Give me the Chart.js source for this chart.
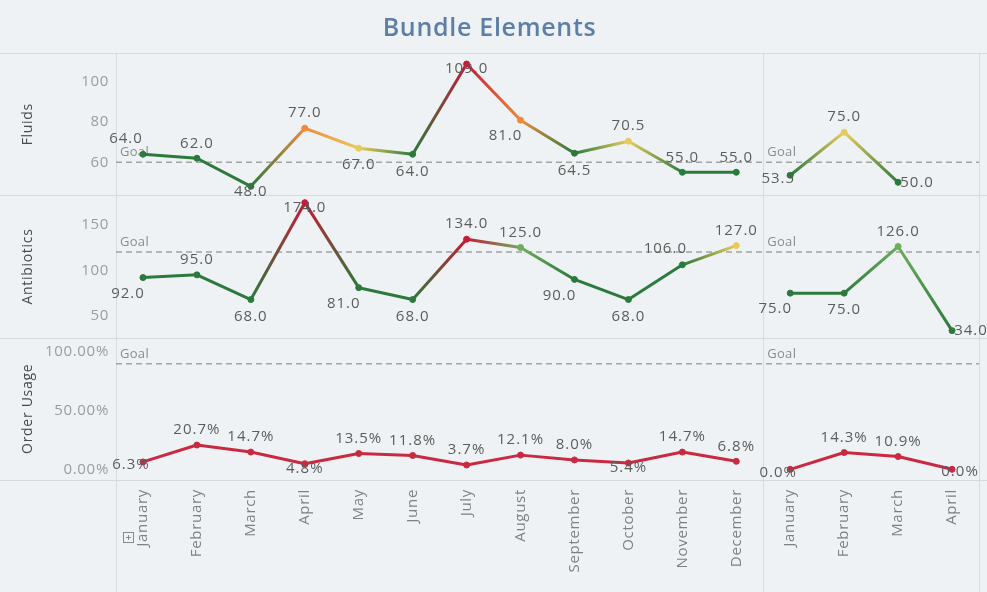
<!DOCTYPE html>
<html>
<head>
<meta charset="utf-8">
<script src="https://cdn.jsdelivr.net/npm/chart.js@4.4.1/dist/chart.umd.min.js"></script>
<style>
  html, body { margin: 0; padding: 0; background: #eff2f4; }
  #wrap { width: 987px; height: 592px; }
</style>
</head>
<body>
<div id="wrap"><canvas id="bundle" width="987" height="592"></canvas></div>
<script>
// ---- data ----
var monthLabels = ['January', 'February', 'March', 'April', 'May', 'June', 'July', 'August',
  'September', 'October', 'November', 'December', 'January', 'February', 'March', 'April'];

var fluidsYear1 = [64.0, 62.0, 48.0, 77.0, 67.0, 64.0, 109.0, 81.0, 64.5, 70.5, 55.0, 55.0];
var fluidsYear2 = [53.5, 75.0, 50.0];
var antibioticsYear1 = [92.0, 95.0, 68.0, 174.0, 81.0, 68.0, 134.0, 125.0, 90.0, 68.0, 106.0, 127.0];
var antibioticsYear2 = [75.0, 75.0, 126.0, 34.0];
var orderUsageYear1 = [6.3, 20.7, 14.7, 4.8, 13.5, 11.8, 3.7, 12.1, 8.0, 5.4, 14.7, 6.8];
var orderUsageYear2 = [0.0, 14.3, 10.9, 0.0];

var fluidsGoal = 60;
var antibioticsGoal = 120;
var orderUsageGoal = 90;

var fluidsTicks = [60, 80, 100];
var antibioticsTicks = [50, 100, 150];
var orderUsageTicks = [0, 50, 100];

// ---- styling ----
var FONT = "'Open Sans', 'DejaVu Sans', sans-serif";
var GREEN = '#2b7a3c', LIGHTGREEN = '#6cae5a', YELLOW = '#e8cc5a', ORANGE = '#ef8a3c', RED = '#c41b37', ORDERRED = '#c92a41';

function fluidsColor(v) {
  if (v <= 65) return GREEN;
  if (v <= 75) return YELLOW;
  if (v <= 85) return ORANGE;
  return RED;
}
function antibioticsColor(v) {
  if (v <= 110) return GREEN;
  if (v <= 126) return LIGHTGREEN;
  if (v <= 130) return YELLOW;
  return RED;
}
function orderColor(v) { return ORDERRED; }

// label placement codes: a above, b below, c on, L above-left, l below-left, r right, w left-on, e right-on
var placeOffsets = { a: [0, -15], b: [0, 17], c: [0, 5], L: [-17, -16], l: [-15, 16], r: [19, 0], w: [-12, 3], e: [8, 2] };

function firstYear(vals) { return vals.concat([null, null, null, null]); }
function secondYear(vals) {
  var out = [];
  for (var i = 0; i < 12; i++) out.push(null);
  for (var j = 0; j < 4; j++) out.push(j < vals.length ? vals[j] : null);
  return out;
}

function gradientSegment(colorFn) {
  return {
    borderColor: function (c) {
      var ds = c.chart.data.datasets[c.datasetIndex];
      var g = c.chart.ctx.createLinearGradient(c.p0.x, c.p0.y, c.p1.x, c.p1.y);
      g.addColorStop(0, colorFn(ds.data[c.p0DataIndex]));
      g.addColorStop(1, colorFn(ds.data[c.p1DataIndex]));
      return g;
    },
    // keeps each segment distinct so every one gets its own gradient
    borderDashOffset: function (c) { return c.p0DataIndex; }
  };
}

function lineSet(data, axis, colorFn, places, fmt) {
  var pc = data.map(function (v) { return v === null ? 'rgba(0,0,0,0)' : colorFn(v); });
  return {
    data: data,
    yAxisID: axis,
    borderWidth: 3,
    pointRadius: 3,
    pointBorderWidth: 1,
    pointBackgroundColor: pc,
    pointBorderColor: pc,
    spanGaps: false,
    segment: gradientSegment(colorFn),
    places: places,
    fmt: fmt
  };
}

function one(v) { return v.toFixed(1); }
function pct(v) { return v.toFixed(1) + '%'; }

var datasets = [
  lineSet(firstYear(fluidsYear1), 'yF', fluidsColor, 'Lacabbclbaaa', one),
  lineSet(secondYear(fluidsYear2), 'yF', fluidsColor, 'war', one),
  lineSet(firstYear(antibioticsYear1), 'yA', antibioticsColor, 'labclbaalbLa', one),
  lineSet(secondYear(antibioticsYear2), 'yA', antibioticsColor, 'lbar', one),
  lineSet(firstYear(orderUsageYear1), 'yO', orderColor, 'waacaaaaacaa', pct),
  lineSet(secondYear(orderUsageYear2), 'yO', orderColor, 'waae', pct)
];

function rowAxis(title, min, max, ticks, fmt) {
  return {
    type: 'linear',
    position: 'left',
    stack: 'rows',
    stackWeight: 1,
    min: min,
    max: max,
    grid: { display: false, drawTicks: false },
    border: { display: false },
    afterBuildTicks: function (s) { s.ticks = ticks.map(function (v) { return { value: v }; }); },
    afterFit: function (s) { s.width = 116; },
    ticks: {
      padding: 7,
      color: '#9c9c9c',
      font: { family: FONT, size: 15 },
      callback: fmt
    },
    title: {
      display: true,
      text: title,
      color: '#4a4a4a',
      font: { family: FONT, size: 14 },
      padding: { top: 20, bottom: 0 }
    }
  };
}

var goalByAxis = { yF: fluidsGoal, yA: antibioticsGoal, yO: orderUsageGoal };

var decor = {
  id: 'decor',
  beforeDraw: function (chart) {
    var ctx = chart.ctx;
    ctx.save();
    ctx.fillStyle = '#eff2f4';
    ctx.fillRect(0, 0, chart.width, chart.height);
    ctx.restore();
    ctx.letterSpacing = '0.7px';
  },
  beforeDatasetsDraw: function (chart) {
    var ctx = chart.ctx, a = chart.chartArea, xs = chart.scales.x;
    var split = (xs.getPixelForValue(11) + xs.getPixelForValue(12)) / 2;
    ctx.save();
    ctx.strokeStyle = '#d5dadd';
    ctx.lineWidth = 1;
    ['yF', 'yA', 'yO'].forEach(function (id) {
      var s = chart.scales[id];
      [s.top, s.bottom].forEach(function (y) {
        ctx.beginPath(); ctx.moveTo(0, Math.round(y) + 0.5); ctx.lineTo(chart.width, Math.round(y) + 0.5); ctx.stroke();
      });
    });
    [a.left, split, a.right].forEach(function (x) {
      ctx.beginPath(); ctx.moveTo(Math.round(x) + 0.5, a.top); ctx.lineTo(Math.round(x) + 0.5, chart.height); ctx.stroke();
    });
    // goal reference lines
    Object.keys(goalByAxis).forEach(function (id) {
      var y = chart.scales[id].getPixelForValue(goalByAxis[id]);
      ctx.strokeStyle = '#a3a3a3';
      ctx.lineWidth = 1.5;
      ctx.setLineDash([6, 4]);
      ctx.beginPath(); ctx.moveTo(a.left, y); ctx.lineTo(a.right, y); ctx.stroke();
      ctx.setLineDash([]);
      ctx.fillStyle = '#8c8c8c';
      ctx.font = '13px ' + FONT;
      ctx.letterSpacing = '0.3px';
      ctx.textAlign = 'left';
      ctx.textBaseline = 'bottom';
      ctx.fillText('Goal', a.left + 4, y - 3);
      ctx.fillText('Goal', split + 4, y - 3);
    });
    // small expand box under the axis titles
    ctx.strokeStyle = '#8a8a8a';
    ctx.lineWidth = 1;
    ctx.strokeRect(123.5, 532.5, 10, 10);
    ctx.beginPath();
    ctx.moveTo(126, 537.5); ctx.lineTo(131, 537.5);
    ctx.moveTo(128.5, 535); ctx.lineTo(128.5, 540);
    ctx.stroke();
    ctx.restore();
  },
  afterDatasetsDraw: function (chart) {
    var ctx = chart.ctx;
    ctx.save();
    ctx.font = '15px ' + FONT;
    ctx.letterSpacing = '1px';
    ctx.fillStyle = '#5c5c5c';
    ctx.textAlign = 'center';
    ctx.textBaseline = 'middle';
    chart.data.datasets.forEach(function (ds, di) {
      var meta = chart.getDatasetMeta(di);
      var k = 0;
      ds.data.forEach(function (v, i) {
        if (v === null) return;
        var pt = meta.data[i];
        var off = placeOffsets[ds.places.charAt(k)] || placeOffsets.a;
        k++;
        ctx.fillText(ds.fmt(v), pt.x + off[0], pt.y + off[1]);
      });
    });
    ctx.restore();
  }
};

new Chart(document.getElementById('bundle').getContext('2d'), {
  type: 'line',
  data: { labels: monthLabels, datasets: datasets },
  options: {
    responsive: false,
    devicePixelRatio: 1,
    animation: false,
    layout: { padding: { left: 0, right: 8, top: 0, bottom: 0 } },
    plugins: {
      legend: { display: false },
      tooltip: { enabled: false },
      title: {
        display: true,
        text: 'Bundle Elements',
        color: '#5d7fa6',
        font: { family: FONT, size: 25, weight: '600' },
        padding: { top: 14, bottom: 9 }
      }
    },
    scales: {
      x: {
        type: 'category',
        offset: true,
        grid: { display: false, drawTicks: false },
        border: { display: false },
        afterFit: function (s) { s.height = 112; },
        ticks: {
          autoSkip: false,
          minRotation: 90,
          maxRotation: 90,
          padding: 9,
          color: '#808080',
          font: { family: FONT, size: 15 }
        }
      },
      // stacked axes are laid out bottom-up, so the bottom row comes first
      yO: rowAxis('Order Usage', -9.1, 112.2, orderUsageTicks, function (v) { return v.toFixed(2) + '%'; }),
      yA: rowAxis('Antibiotics', 26.3, 182, antibioticsTicks, function (v) { return v; }),
      yF: rowAxis('Fluids', 43.5, 114.5, fluidsTicks, function (v) { return v; })
    }
  },
  plugins: [decor]
});
</script>
</body>
</html>
